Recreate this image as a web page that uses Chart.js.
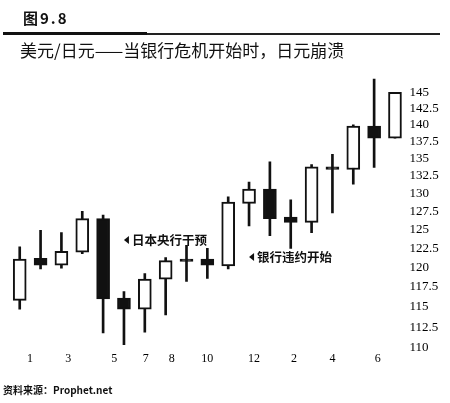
<!DOCTYPE html>
<html>
<head>
<meta charset="utf-8">
<script src="https://cdn.jsdelivr.net/npm/chart.js@4.4.1/dist/chart.umd.min.js"></script>
<style>
  html, body { margin: 0; padding: 0; background: #fff; }
  #wrap { position: relative; width: 450px; height: 403px; overflow: hidden; }
  #chart { position: absolute; left: 0; top: 0; }
  .fig { position: absolute; left: 23px; top: 9px; font: bold 15px "Noto Sans CJK SC"; letter-spacing: 2px; color: #111; line-height: 18px; }
  .rule-thick { position: absolute; left: 3px; top: 32px; width: 144px; height: 3px; background: #111; }
  .rule-thin { position: absolute; left: 147px; top: 33px; width: 293px; height: 2px; background: #222; }
  .title { position: absolute; left: 20px; top: 41px; font: 17px "Noto Sans CJK SC"; color: #111; line-height: 18px; white-space: nowrap; }
  .source { position: absolute; left: 3px; top: 384px; font: bold 10px "Noto Sans CJK SC"; color: #111; line-height: 12px; }
</style>
</head>
<body>
<div id="wrap">
  <canvas id="chart" width="450" height="403"></canvas>
  <div class="fig">图9.8</div>
  <div class="rule-thick"></div>
  <div class="rule-thin"></div>
  <div class="title">美元/日元——当银行危机开始时，日元崩溃</div>
  <div class="source">资料来源：Prophet.net</div>
</div>
<script>
document.addEventListener('DOMContentLoaded', function () {

  // candles, one per period
  const opens  = [115.8, 121.2, 120.3, 122.0, 126.5, 116.1, 114.7, 118.5, 121.1, 121.1, 120.2, 128.6, 130.6, 126.7, 126.0, 133.8, 133.4, 139.8, 138.0];
  const highs  = [122.7, 124.9, 124.6, 127.5, 127.0, 116.9, 119.2, 121.3, 122.9, 122.5, 129.5, 131.6, 134.5, 129.1, 134.1, 135.6, 140.0, 147.1, 145.0];
  const lows   = [114.7, 119.8, 119.9, 121.8, 111.8, 110.4, 111.9, 114.0, 118.2, 118.6, 119.8, 125.5, 124.2, 122.5, 124.6, 127.3, 131.3, 133.7, 138.0];
  const closes = [121.1, 120.3, 122.1, 126.5, 116.0, 114.7, 118.5, 120.9, 120.8, 120.3, 128.8, 130.6, 126.5, 126.0, 133.8, 133.4, 139.8, 138.0, 145.0];

  // month labels and where they sit on the candle index axis
  const monthTicks = [0.49, 2.33, 4.54, 6.04, 7.29, 9.0, 11.24, 13.16, 15.0, 17.17];
  const monthLabels = ['1', '3', '5', '7', '8', '10', '12', '2', '4', '6'];

  const priceTicks = [110, 112.5, 115, 117.5, 120, 122.5, 125, 127.5, 130, 132.5, 135, 137.5, 140, 142.5, 145];

  const notes = [
    { x: 5.0, y: 123.6, text: '日本央行干预' },
    { x: 11.0, y: 121.36, text: '银行违约开始' }
  ];

  const ink = '#111111';

  const bodies = opens.map((o, i) => ({ x: i, y: [o, closes[i]] }));
  const wicks = lows.map((l, i) => ({ x: i, y: [l, highs[i]] }));
  const bodyFill = opens.map((o, i) => (closes[i] < o ? ink : '#ffffff'));

  const notePlugin = {
    id: 'notes',
    afterDatasetsDraw(chart) {
      const { ctx, scales: { x, y } } = chart;
      ctx.save();
      ctx.fillStyle = ink;
      ctx.font = 'bold 12.5px "Noto Sans CJK SC"';
      ctx.textBaseline = 'middle';
      notes.forEach(n => {
        const px = x.getPixelForValue(n.x);
        const py = y.getPixelForValue(n.y);
        ctx.beginPath();
        ctx.moveTo(px, py);
        ctx.lineTo(px + 5, py - 4);
        ctx.lineTo(px + 5, py + 4);
        ctx.closePath();
        ctx.fill();
        ctx.fillText(n.text, px + 8, py + 0.5);
      });
      ctx.restore();
    }
  };

  const ctx = document.getElementById('chart').getContext('2d');
  new Chart(ctx, {
    type: 'bar',
    data: {
      datasets: [
        {
          label: 'body',
          data: bodies,
          backgroundColor: bodyFill,
          borderColor: ink,
          borderWidth: 2,
          borderSkipped: false,
          barThickness: 13,
          grouped: false,
          order: 1
        },
        {
          label: 'wick',
          data: wicks,
          backgroundColor: ink,
          borderWidth: 0,
          barThickness: 2,
          grouped: false,
          order: 2
        }
      ]
    },
    options: {
      responsive: false,
      animation: false,
      layout: { padding: { left: 9.3, top: 73.35, right: 0, bottom: 35 } },
      plugins: {
        legend: { display: false },
        tooltip: { enabled: false }
      },
      scales: {
        x: {
          type: 'linear',
          min: -0.5,
          max: 18.5,
          offset: false,
          grid: { display: false, drawTicks: false },
          border: { display: false },
          afterBuildTicks: (scale) => { scale.ticks = monthTicks.map(v => ({ value: v })); },
          afterFit: (scale) => { scale.height = 20; },
          ticks: {
            autoSkip: false,
            maxRotation: 0,
            padding: 4,
            color: '#000',
            font: { family: '"Liberation Serif"', size: 12 },
            callback: (value, index) => monthLabels[index]
          }
        },
        y: {
          type: 'logarithmic',
          position: 'right',
          min: 110,
          max: 148,
          grid: { display: false, drawTicks: false },
          border: { display: false },
          afterBuildTicks: (scale) => { scale.ticks = priceTicks.map(v => ({ value: v })); },
          afterFit: (scale) => { scale.width = 44.6; },
          ticks: {
            autoSkip: false,
            padding: 4,
            color: '#000',
            font: { family: '"Liberation Serif"', size: 13 },
            callback: (value) => String(value)
          }
        }
      }
    },
    plugins: [notePlugin]
  });
});
</script>
</body>
</html>
